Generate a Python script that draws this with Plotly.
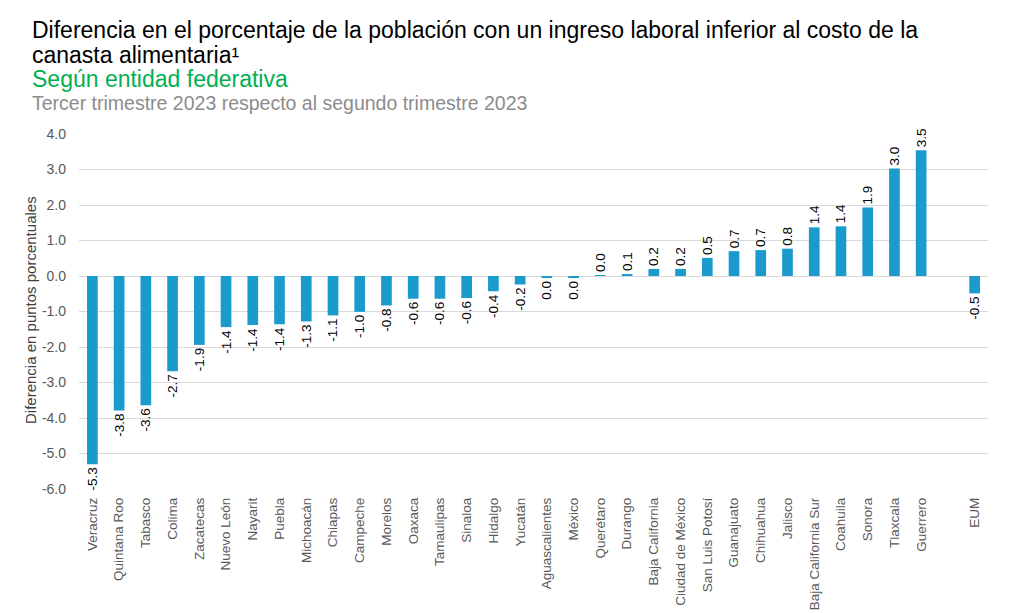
import plotly.graph_objects as go

categories = ["Veracruz", "Quintana Roo", "Tabasco", "Colima", "Zacatecas", "Nuevo León",
              "Nayarit", "Puebla", "Michoacán", "Chiapas", "Campeche", "Morelos", "Oaxaca",
              "Tamaulipas", "Sinaloa", "Hidalgo", "Yucatán", "Aguascalientes", "México",
              "Querétaro", "Durango", "Baja California", "Ciudad de México", "San Luis Potosí",
              "Guanajuato", "Chihuahua", "Jalisco", "Baja California Sur", "Coahuila", "Sonora",
              "Tlaxcala", "Guerrero", " ", "EUM"]
values = [-5.3, -3.79, -3.64, -2.68, -1.94, -1.44, -1.38, -1.36, -1.28, -1.11, -1.01, -0.83,
          -0.64, -0.64, -0.62, -0.43, -0.24, -0.04, -0.03, 0.004, 0.05, 0.2, 0.2, 0.51, 0.7,
          0.73, 0.77, 1.37, 1.4, 1.93, 3.03, 3.54, None, -0.49]
labels = ["" if v is None else f"{v:.1f}".replace("-0.0", "0.0") for v in values]

title_line1 = "Diferencia en el porcentaje de la población con un ingreso laboral inferior al costo de la"
title_line2 = "canasta alimentaria¹"
subtitle1 = "Según entidad federativa"
subtitle2 = "Tercer trimestre 2023 respecto al segundo trimestre 2023"
y_title = "Diferencia en puntos porcentuales"
y_ticks = [4, 3, 2, 1, 0, -1, -2, -3, -4, -5, -6]
y_ticktext = [f"{t:.1f}" for t in y_ticks]

font = "Liberation Sans, Arial, sans-serif"

fig = go.Figure()
fig.add_trace(go.Bar(
    x=categories, y=values, text=labels, textposition="outside", textangle=-90,
    constraintext="none",
    textfont=dict(family=font, size=13.5, color="#000000"),
    marker=dict(color="#1a9bcc", line=dict(width=0)), cliponaxis=False,
))

fig.update_layout(
    width=1024, height=613, paper_bgcolor="white", plot_bgcolor="white",
    margin=dict(l=79, r=36, t=134, b=124, autoexpand=False), showlegend=False, bargap=0.6,
    font=dict(family=font),
    xaxis=dict(type="category", tickangle=-90, showgrid=False, showline=False, ticks="",
               ticklabelstandoff=5, automargin=False,
               tickfont=dict(family=font, size=13.5, color="#595959")),
    yaxis=dict(range=[-6, 4], tickvals=y_ticks, ticktext=y_ticktext, showgrid=True,
               gridcolor="#d9d9d9", gridwidth=1, zeroline=True, zerolinecolor="#d9d9d9",
               zerolinewidth=1, ticks="", ticklabelstandoff=12, automargin=False,
               tickfont=dict(family=font, size=14, color="#595959")),
)

plot_w = 1024 - 79 - 36
plot_h = 613 - 134 - 124
specs = [(title_line1, 30, 30, 23, "#000000"), (title_line2, 30, 55, 23, "#000000"),
         (subtitle1, 30, 79, 23, "#00b050"), (subtitle2, 30, 103, 19.5, "#8c8c8c")]
anns = []
for txt, px, py, sz, col in specs:
    anns.append(dict(text=txt, xref="paper", yref="paper",
                     x=(px - 79) / plot_w, y=(613 - 124 - py) / plot_h,
                     xanchor="left", yanchor="middle", showarrow=False,
                     font=dict(family=font, size=sz, color=col)))
anns.append(dict(text=y_title, xref="paper", yref="paper",
                 x=(30 - 79) / plot_w, y=(613 - 124 - 310) / plot_h,
                 xanchor="center", yanchor="middle", textangle=-90, showarrow=False,
                 font=dict(family=font, size=15, color="#404040")))
fig.update_layout(annotations=anns)

fig.write_html("out.html")
